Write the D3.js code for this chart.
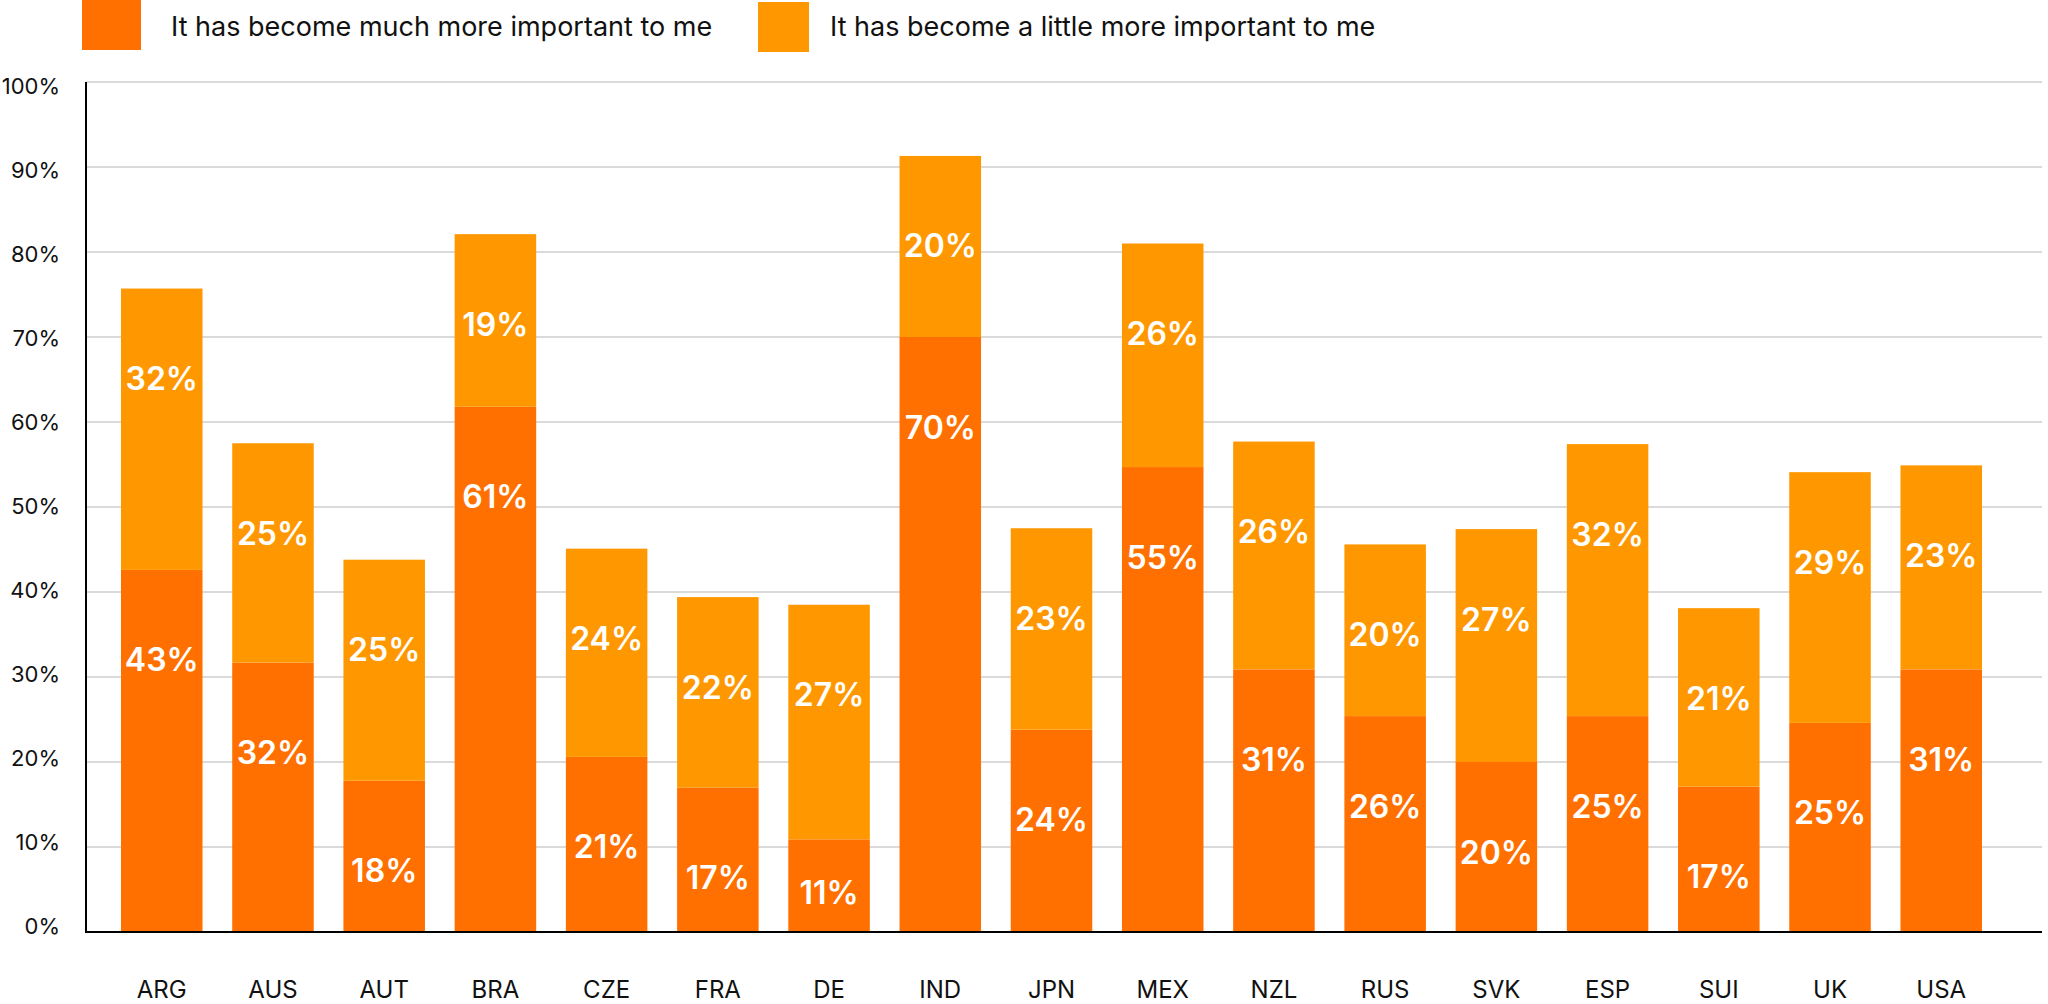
<!DOCTYPE html>
<html>
<head>
<meta charset="utf-8">
<script src="https://cdn.jsdelivr.net/npm/d3@7"></script>
<style>
  html, body { margin: 0; padding: 0; background: #ffffff; }
  svg { display: block; font-family: Inter, "Noto Sans", sans-serif; }
</style>
</head>
<body>
<svg id="chart" width="2048" height="1004"></svg>
<script>
const categories = ["ARG","AUS","AUT","BRA","CZE","FRA","DE","IND","JPN","MEX","NZL","RUS","SVK","ESP","SUI","UK","USA"];
const seriesNames = ["It has become much more important to me", "It has become a little more important to me"];
// bar heights (percent)
const muchMore   = [42.6, 31.7, 17.8, 61.8, 20.6, 17.0, 10.9, 70.0, 23.8, 54.7, 30.9, 25.4, 20.0, 25.4, 17.1, 24.6, 30.9];
const littleMore = [33.1, 25.8, 26.0, 20.3, 24.5, 22.4, 27.6, 21.3, 23.7, 26.3, 26.8, 20.2, 27.4, 32.0, 21.0, 29.5, 24.0];
// value labels as printed on the bars
const muchMoreLabels   = [43, 32, 18, 61, 21, 17, 11, 70, 24, 55, 31, 26, 20, 25, 17, 25, 31];
const littleMoreLabels = [32, 25, 25, 19, 24, 22, 27, 20, 23, 26, 26, 20, 27, 32, 21, 29, 23];
const yTicks = [0, 10, 20, 30, 40, 50, 60, 70, 80, 90, 100];
const colors = ["#ff7000", "#ff9800"];

const svg = d3.select("#chart");

const x = d3.scaleBand().domain(categories).range([121, 1982]).paddingInner(0.267).paddingOuter(0);
const y = d3.scaleLinear().domain([0, 100]).range([932, 82]);

// gridlines
svg.append("g").selectAll("line").data(yTicks.filter(t => t > 0)).join("line")
  .attr("x1", 86).attr("x2", 2042)
  .attr("y1", d => y(d)).attr("y2", d => y(d))
  .attr("stroke", "#dadada").attr("stroke-width", 2);

// y tick labels
svg.append("g").selectAll("text").data(yTicks).join("text")
  .attr("x", 60).attr("y", d => y(d) + 2 + d * 0.1)
  .attr("text-anchor", "end")
  .attr("font-size", 22).attr("fill", "#111")
  .text(d => d + "%");

// stacked data
const rows = categories.map((c, i) => ({ cat: c, a: muchMore[i], b: littleMore[i], la: muchMoreLabels[i], lb: littleMoreLabels[i] }));
const segs = [];
rows.forEach(r => {
  segs.push({ cat: r.cat, y0: 0, y1: r.a, label: r.la, s: 0 });
  segs.push({ cat: r.cat, y0: r.a, y1: r.a + r.b, label: r.lb, s: 1 });
});

svg.append("g").selectAll("rect").data(segs).join("rect")
  .attr("x", d => x(d.cat))
  .attr("width", x.bandwidth())
  .attr("y", d => y(d.y1))
  .attr("height", d => y(d.y0) - y(d.y1))
  .attr("fill", d => colors[d.s]);

svg.append("g").selectAll("text").data(segs).join("text")
  .attr("x", d => x(d.cat) + x.bandwidth() / 2)
  .attr("y", d => {
    const top = y(d.y1), bot = y(d.y0);
    const cy = Math.min(top + 90, bot - 40);
    return cy + 11.5;
  })
  .attr("text-anchor", "middle")
  .attr("font-size", 32).attr("font-weight", 600).attr("fill", "#ffffff")
  .text(d => d.label + "%");

// axes lines
svg.append("line").attr("x1", 86).attr("x2", 86).attr("y1", y(100)).attr("y2", y(0) + 1)
  .attr("stroke", "#000").attr("stroke-width", 2);
svg.append("line").attr("x1", 86).attr("x2", 2042).attr("y1", y(0)).attr("y2", y(0))
  .attr("stroke", "#000").attr("stroke-width", 2);

// x labels
svg.append("g").selectAll("text").data(categories).join("text")
  .attr("x", d => x(d) + x.bandwidth() / 2)
  .attr("y", 998)
  .attr("text-anchor", "middle")
  .attr("font-size", 24).attr("fill", "#111")
  .text(d => d);

// legend
const legend = [
  { name: seriesNames[0], color: colors[0], rx: 82, rw: 59, ry: 0, tx: 171 },
  { name: seriesNames[1], color: colors[1], rx: 758, rw: 51, ry: 2, tx: 830 }
];
const lg = svg.append("g");
lg.selectAll("rect").data(legend).join("rect")
  .attr("x", d => d.rx).attr("y", d => d.ry).attr("width", d => d.rw).attr("height", 50)
  .attr("fill", d => d.color);
lg.selectAll("text").data(legend).join("text")
  .attr("x", d => d.tx).attr("y", 36)
  .attr("font-size", 27).attr("fill", "#111")
  .text(d => d.name);
</script>
</body>
</html>
